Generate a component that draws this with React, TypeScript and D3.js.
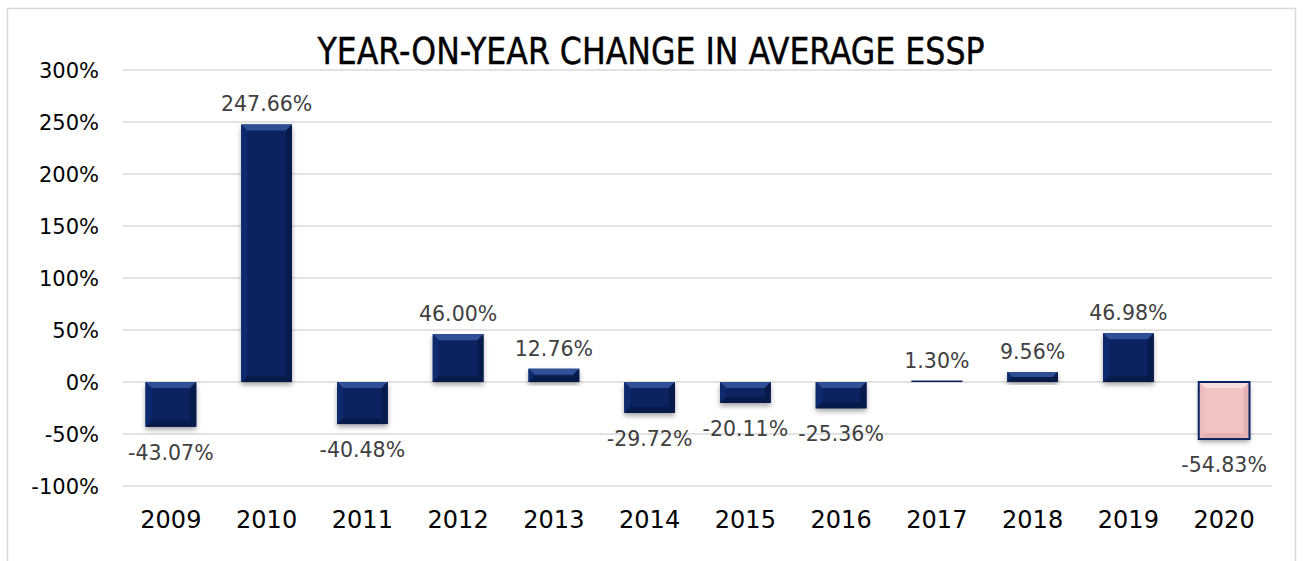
import React from "react";
import * as d3 from "d3";

const years = ["2009","2010","2011","2012","2013","2014","2015","2016","2017","2018","2019","2020"];
const changes = [-43.07, 247.66, -40.48, 46.0, 12.76, -29.72, -20.11, -25.36, 1.3, 9.56, 46.98, -54.83];
const yTicks = [300, 250, 200, 150, 100, 50, 0, -50, -100];
const titleText = "YEAR-ON-YEAR CHANGE IN AVERAGE ESSP";

const W = 1303, H = 561;
const left = 123, right = 1272, top = 70, bottom = 486;

export default function App() {
  const x = d3.scaleBand<string>().domain(years).range([left, right]).paddingInner(0.47).paddingOuter(0.235);
  const y = d3.scaleLinear().domain([-100, 300]).range([bottom, top]);
  const bw = x.bandwidth();
  const fmt = (v: number) => v.toFixed(2) + "%";

  return (
    <svg width={W} height={H} style={{ position: "absolute", left: 0, top: 0, background: "#fff" }}
      fontFamily="'DejaVu Sans', Verdana, sans-serif">
      <defs>
        <filter id="sh" x="-30%" y="-30%" width="160%" height="160%">
          <feDropShadow dx="0" dy="3" stdDeviation="2.5" floodColor="#000" floodOpacity="0.35" />
        </filter>
      </defs>
      <rect x={7.5} y={8.5} width={1288} height={600} fill="#fff" stroke="#d9d9d9" strokeWidth={1.5} />
      <text x={651} y={64} textAnchor="middle" fontSize={37} fill="#000"
        fontFamily="'Liberation Sans Narrow', 'DejaVu Sans Condensed', sans-serif"
        stroke="#000" strokeWidth={0.4}
        textLength={667} lengthAdjust="spacingAndGlyphs">{titleText}</text>
      {yTicks.map(t => (
        <g key={t}>
          <line x1={left} x2={right} y1={y(t)} y2={y(t)} stroke="#d9d9d9" strokeWidth={1.5} />
          <text x={99} y={y(t) + 8} textAnchor="end" fontSize={21} fill="#000">{t}%</text>
        </g>
      ))}
      {years.map((yr, i) => {
        const v = changes[i];
        const x0 = x(yr)!;
        const y0 = Math.min(y(v), y(0));
        const h = Math.abs(y(v) - y(0));
        const pink = yr === "2020";
        const main = pink ? "#f2c4c4" : "#0b2461";
        const light = pink ? "#f8dede" : "#2f4f96";
        const dark = pink ? "#e4b2b2" : "#071a4a";
        const side = pink ? "#eebcbc" : "#0d2a6e";
        const b = Math.min(6, h / 2);
        const x1 = x0 + bw, y1 = y0 + h;
        const cx = x0 + bw / 2;
        const labelY = v >= 0 ? y0 - 13 : y1 + 33;
        return (
          <g key={yr}>
            <g filter="url(#sh)">
              <rect x={x0} y={y0} width={bw} height={h} fill={main} />
            </g>
            <polygon points={`${x0},${y0} ${x1},${y0} ${x1 - b},${y0 + b} ${x0 + b},${y0 + b}`} fill={light} />
            <polygon points={`${x0},${y1} ${x1},${y1} ${x1 - b},${y1 - b} ${x0 + b},${y1 - b}`} fill={dark} />
            <polygon points={`${x0},${y0} ${x0 + b},${y0 + b} ${x0 + b},${y1 - b} ${x0},${y1}`} fill={side} />
            <polygon points={`${x1},${y0} ${x1 - b},${y0 + b} ${x1 - b},${y1 - b} ${x1},${y1}`} fill={dark} />
            {pink && <rect x={x0} y={y0} width={bw} height={h} fill="none" stroke="#0b2461" strokeWidth={2} />}
            <text x={cx} y={labelY} textAnchor="middle" fontSize={20.5} fill="#404040">{fmt(v)}</text>
            <text x={cx} y={528} textAnchor="middle" fontSize={24} fill="#000">{yr}</text>
          </g>
        );
      })}
    </svg>
  );
}
